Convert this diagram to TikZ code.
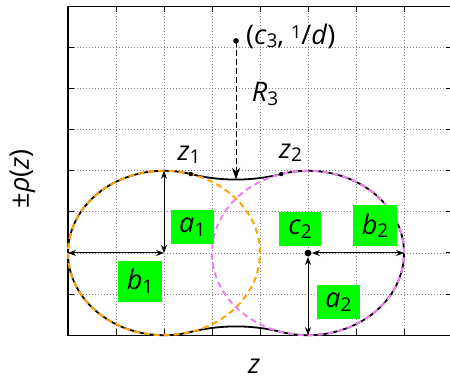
\documentclass[tikz,border=0pt]{standalone}
\usepackage{fontspec}
\setmainfont{Open Sans}
\usetikzlibrary{arrows.meta}
\definecolor{orng}{HTML}{FFA500}
\definecolor{vio}{HTML}{EE82EE}
\definecolor{grn}{HTML}{00FF00}
\definecolor{gridc}{HTML}{808080}
\newcommand\lb[2]{\textit{#1}\raisebox{-3.5pt}{\fontsize{19}{19}\selectfont #2}}
\begin{document}
\begin{tikzpicture}[x=1pt,y=1pt,
  font=\fontsize{27}{32}\selectfont,
  gridl/.style={gridc, line width=0.8pt, dash pattern=on 1pt off 2pt},
  frame/.style={black, line width=1.4pt},
  tickl/.style={black, line width=1pt},
  outline/.style={black, line width=1.8pt, line cap=round, line join=round},
  orngc/.style={orng, line width=2pt, dash pattern=on 6pt off 4pt},
  vioc/.style={vio, line width=2pt, dash pattern=on 6pt off 4pt},
  dim/.style={black, line width=1pt, {Stealth[length=8pt,width=6pt]}-{Stealth[length=8pt,width=6pt]}},
  rarrow/.style={black, line width=1pt, dash pattern=on 6pt off 3pt, -{Stealth[length=12pt,width=8pt]}},
  gbox/.style={fill=grn, inner sep=0pt},
  lbl/.style={inner sep=0pt},
]
\useasboundingbox (0,0) rectangle (450,378);
\begin{scope}[shift={(68pt,125pt)}, x=48pt, y=41.1pt]
  % grid
  \foreach \i in {1,...,7} \draw[gridl] (\i,-2) -- (\i,6);
  \foreach \j in {-1,...,5} \draw[gridl] (0,\j) -- (8,\j);
  % frame and ticks
  \draw[frame] (8.2,6) -- (0,6) -- (0,-2) -- (8.2,-2);
  \foreach \j in {-1,...,5} {
    \draw[tickl] (0,\j) -- ++(6pt,0);
    \draw[tickl] (8,\j) -- ++(-6pt,0);
  }
  \foreach \i in {1,...,7} {
    \draw[tickl] (\i,-2) -- ++(0,6pt);
    \draw[tickl] (\i,6) -- ++(0,-6pt);
  }
  % named points
  \coordinate (c1) at (2,0);
  \coordinate (top1) at (2,2);
  \coordinate (left1) at (0,0);
  \coordinate (c2) at (5,0);
  \coordinate (right2) at (7,0);
  \coordinate (bot2) at (5,-2);
  \coordinate (c3) at (3.5,5.16);
  \coordinate (neck) at (3.5,1.7864);
  \coordinate (z1) at (2.558,1.9206);
  \coordinate (z2) at (4.442,1.9206);
  % black outline
  \draw[outline] plot[domain=73.79:286.21, samples=120, smooth] ({2+2*cos(\x)},{2*sin(\x)});
  \draw[outline] plot[domain=106.21:73.79, samples=40, smooth] ({3.5+3.3736*cos(\x)},{-5.16+3.3736*sin(\x)});
  \draw[outline] plot[domain=-106.21:106.21, samples=120, smooth] ({5+2*cos(\x)},{2*sin(\x)});
  \draw[outline] plot[domain=286.21:253.79, samples=40, smooth] ({3.5+3.3736*cos(\x)},{5.16+3.3736*sin(\x)});
  % dashed circles
  \draw[orngc] plot[domain=90:450, samples=180, smooth] ({2+2*cos(\x)},{2*sin(\x)});
  \draw[vioc] plot[domain=90:450, samples=180, smooth] ({5+2*cos(\x)},{2*sin(\x)});
\end{scope}
% dimension arrows
\draw[dim] (top1) -- (c1);
\draw[dim] (left1) -- (c1);
\draw[dim, shorten <=4pt] (c2) -- (right2);
\draw[dim, shorten <=4pt] (c2) -- (bot2);
\draw[rarrow] (c3) -- (neck);
% dots
\fill (c3) circle (2.8pt);
\fill (c2) circle (3.4pt);
\fill (z1) circle (2.2pt);
\fill (z2) circle (2.2pt);
% green boxes
\node[gbox, minimum width=43pt, minimum height=34pt] (a1box) at (192.3,151.1) {\lb{a}{1}};
\node[gbox, minimum width=44pt, minimum height=41pt] (b1box) at (140,96.7) {\lb{b}{1}};
\node[gbox, minimum width=42pt, minimum height=34pt] (c2box) at (300,149) {\lb{c}{2}};
\node[gbox, minimum width=44pt, minimum height=41pt] (b2box) at (375,152.5) {\lb{b}{2}};
\node[gbox, minimum width=43pt, minimum height=34pt] (a2box) at (338.5,76) {\lb{a}{2}};
% labels
\node[lbl] (z1lbl) at (189,223) {\lb{z}{1}};
\node[lbl] (z2lbl) at (290.5,225) {\lb{z}{2}};
\node[lbl] (r3lbl) at (265,284) {\lb{R}{3}};
\node[lbl, anchor=west] (c3lbl) at (246,342) {(\lb{c}{3}, \raisebox{6pt}{\fontsize{18}{18}\selectfont 1}/\textit{d})};
\node[lbl] (zlbl) at (254,12) {\textit{z}};
\node[lbl, rotate=90] (ylbl) at (22.5,199) {±\textit{ρ}(\textit{z})};
\end{tikzpicture}
\end{document}
